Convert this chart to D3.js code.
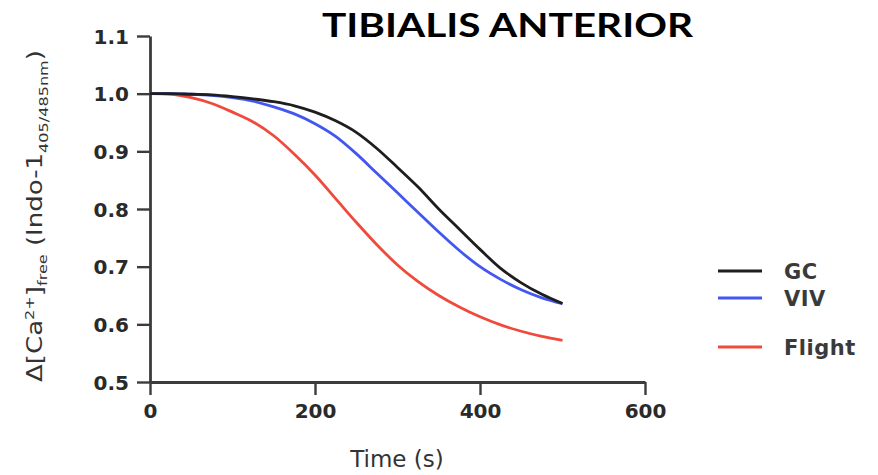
<!DOCTYPE html>
<html>
<head>
<meta charset="utf-8">
<script src="https://cdn.jsdelivr.net/npm/d3@7"></script>
<style>
  body { margin: 0; background: #fff; }
  svg text { font-family: "DejaVu Sans", sans-serif; }
</style>
</head>
<body>
<svg id="chart" width="878" height="475"></svg>
<script>
// time points (s)
const times = [0, 25, 50, 75, 100, 125, 150, 175, 200, 225, 250, 275, 300, 325, 350, 375, 400, 425, 450, 475, 500];

const gcValues = [1.0, 1.0, 0.999, 0.998, 0.995, 0.991, 0.986, 0.979, 0.968, 0.953, 0.933, 0.905, 0.872, 0.838, 0.80, 0.765, 0.73, 0.697, 0.672, 0.652, 0.636];
const vivValues = [1.0, 1.0, 0.999, 0.997, 0.993, 0.987, 0.977, 0.965, 0.948, 0.926, 0.896, 0.862, 0.828, 0.794, 0.76, 0.728, 0.70, 0.678, 0.66, 0.646, 0.636];
const flightValues = [1.0, 0.999, 0.993, 0.983, 0.968, 0.951, 0.927, 0.895, 0.859, 0.818, 0.777, 0.738, 0.703, 0.674, 0.65, 0.63, 0.613, 0.599, 0.588, 0.579, 0.572];

const seriesNames = ["GC", "VIV", "Flight"];
const seriesColors = ["#1e1e1e", "#4257f2", "#ef4a3c"];

const xTicks = [0, 200, 400, 600];
const yTicks = [0.5, 0.6, 0.7, 0.8, 0.9, 1.0, 1.1];

const svg = d3.select("#chart");

const x = d3.scaleLinear().domain([0, 600]).range([150, 645]);
const y = d3.scaleLinear().domain([0.5, 1.1]).range([382, 36]);

// axes
const xAxis = svg.append("g")
  .attr("transform", "translate(0,382)")
  .call(d3.axisBottom(x).tickValues(xTicks).tickFormat(d3.format("d")).tickSize(13).tickSizeOuter(0).tickPadding(9));

const yAxis = svg.append("g")
  .attr("transform", "translate(150,0)")
  .call(d3.axisLeft(y).tickValues(yTicks).tickFormat(d3.format(".1f")).tickSize(13).tickSizeOuter(0).tickPadding(8));

[xAxis, yAxis].forEach(ax => {
  ax.select(".domain").attr("stroke", "#3c3c3c").attr("stroke-width", 2.8);
  ax.selectAll(".tick line").attr("stroke", "#3c3c3c").attr("stroke-width", 2.4);
  ax.selectAll(".tick text")
    .attr("fill", "#2a2a2a")
    .style("font-size", "20px")
    .style("font-weight", "bold")
    .style("font-family", "DejaVu Sans, sans-serif");
});
yAxis.selectAll(".tick text").attr("dy", "0.36em");

// lines
const allSeries = [gcValues, vivValues, flightValues];
const line = d3.line()
  .x((d, i) => x(times[i]))
  .y(d => y(d))
  .curve(d3.curveMonotoneX);

// flight first so GC is on top
[2, 1, 0].forEach(k => {
  svg.append("path")
    .datum(allSeries[k])
    .attr("fill", "none")
    .attr("stroke", seriesColors[k])
    .attr("stroke-width", 2.8)
    .attr("d", line);
});

// legend
const legendY = [271, 298, 347];
seriesNames.forEach((name, k) => {
  svg.append("line")
    .attr("x1", 718).attr("x2", 762)
    .attr("y1", legendY[k]).attr("y2", legendY[k])
    .attr("stroke", seriesColors[k])
    .attr("stroke-width", 3.2);
  svg.append("text")
    .attr("x", 784).attr("y", legendY[k] + 8)
    .attr("fill", "#3a3a3a")
    .style("font-size", "21px")
    .style("font-weight", "bold")
    .style("letter-spacing", "0.5px")
    .text(name);
});

// title
svg.append("text")
  .attr("x", 322).attr("y", 37)
  .attr("textLength", 371)
  .attr("lengthAdjust", "spacingAndGlyphs")
  .style("font-family", "Lato, 'Open Sans', sans-serif")
  .style("font-weight", "bold")
  .style("font-size", "33px")
  .attr("fill", "#000")
  .text("TIBIALIS ANTERIOR");

// x axis label
svg.append("text")
  .attr("x", 397).attr("y", 467)
  .attr("text-anchor", "middle")
  .attr("fill", "#333")
  .style("font-size", "23px")
  .text("Time (s)");

// y axis label with super/subscripts, stretched to the reference length
const yl = svg.append("text")
  .attr("text-anchor", "middle")
  .attr("fill", "#333")
  .style("font-size", "21px");
yl.append("tspan").text("Δ[Ca");
yl.append("tspan").attr("dy", -8).style("font-size", "13px").text("2+");
yl.append("tspan").attr("dy", 8).text("]");
yl.append("tspan").attr("dy", 5).style("font-size", "13px").text("free");
yl.append("tspan").attr("dy", -5).text(" (Indo-1");
yl.append("tspan").attr("dy", 6).style("font-size", "13px").text("405/485nm");
yl.append("tspan").attr("dy", -6).text(")");
const ylLen = yl.node().getBBox().width;
yl.attr("transform", `translate(42,216) rotate(-90) scale(${332 / ylLen},1)`);
</script>
</body>
</html>
